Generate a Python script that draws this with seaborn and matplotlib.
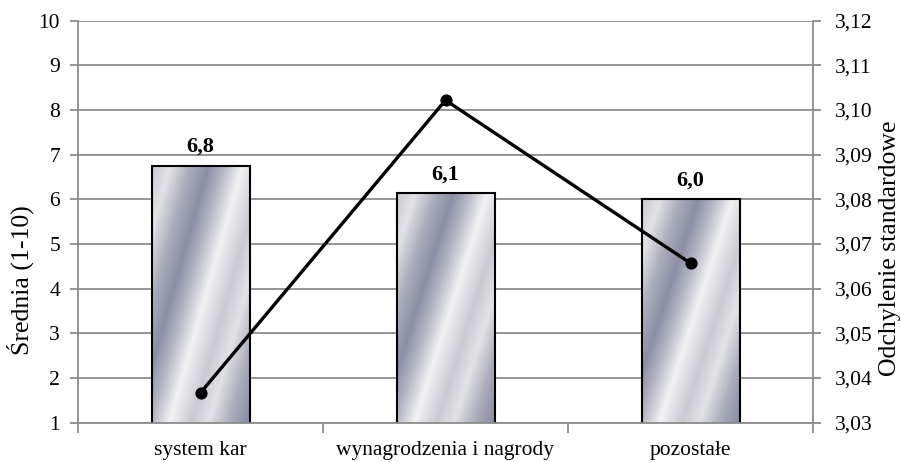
import numpy as np
import pandas as pd
import matplotlib
matplotlib.use("Agg")
import matplotlib.pyplot as plt
import seaborn as sns
from matplotlib.colors import LinearSegmentedColormap

# Data
categories = ["system kar", "wynagrodzenia i nagrody", "pozostałe"]
means = [6.75, 6.14, 6.00]
mean_labels = ["6,8", "6,1", "6,0"]
std_devs = [3.0367, 3.1022, 3.0657]
left_ticks = [1, 2, 3, 4, 5, 6, 7, 8, 9, 10]
right_ticks = [3.03, 3.04, 3.05, 3.06, 3.07, 3.08, 3.09, 3.10, 3.11, 3.12]
right_tick_labels = ["3,03", "3,04", "3,05", "3,06", "3,07",
                     "3,08", "3,09", "3,10", "3,11", "3,12"]

sns.set_theme(style="white")
plt.rcParams["font.family"] = ["Liberation Serif", "DejaVu Serif"]

GRID = "#8c8c8c"
FS = 15.5

fig = plt.figure(figsize=(9.01, 4.62), dpi=100)
ax = fig.add_axes([78 / 901, 39.3 / 462, 735 / 901, 402 / 462])

df = pd.DataFrame({"kategoria": categories, "srednia": means})
sns.barplot(data=df, x="kategoria", y="srednia", ax=ax, width=0.4,
            color="#c0c0c8", saturation=1)

# Brushed-metal fill for each bar, clipped to the bar outline
metal = LinearSegmentedColormap.from_list("metal", [
    (0.00, "#8c90a4"), (0.14, "#b6b8c4"), (0.30, "#f2f2f4"),
    (0.50, "#cacbd2"), (0.66, "#e2e2e6"), (0.84, "#a9acb9"),
    (1.00, "#8c90a4")])
ny, nx = 300, 120
yn, xn = np.mgrid[0:1:ny * 1j, 0:1:nx * 1j]
phase = ((xn - 0.75 * yn) / 1.15 + 0.15) % 1.0
tex = metal(phase)

for p in ax.patches:
    x0, w, h = p.get_x(), p.get_width(), p.get_height()
    im = ax.imshow(tex, extent=[x0, x0 + w, 1, h], origin="lower",
                   aspect="auto", interpolation="bilinear", zorder=1.8)
    im.set_clip_path(p)
    p.set_facecolor("none")
    p.set_edgecolor("black")
    p.set_linewidth(1.5)
    p.set_zorder(2)

ax.set_xlim(-0.5, 2.5)
ax.set_ylim(1, 10)
ax.set_yticks(left_ticks)
ax.set_yticklabels([str(t) for t in left_ticks])
ax.set_axisbelow(True)
ax.yaxis.grid(True, color=GRID, linewidth=1.3)
ax.xaxis.grid(False)

ax.set_xticks([0, 1, 2])
ax.set_xticklabels(categories)
ax.set_xticks([-0.5, 0.5, 1.5, 2.5], minor=True)
ax.tick_params(axis="x", which="major", length=0, pad=13, labelsize=FS,
               labelcolor="black")
ax.tick_params(axis="x", which="minor", bottom=True, length=7, width=1.3,
               color=GRID)
ax.tick_params(axis="y", direction="out", left=True, length=6, width=1.3,
               color=GRID, pad=7, labelsize=FS, labelcolor="black")

for side in ["left", "bottom"]:
    ax.spines[side].set_color(GRID)
    ax.spines[side].set_linewidth(1.3)
for side in ["top", "right"]:
    ax.spines[side].set_visible(False)

for i, (m, lab) in enumerate(zip(means, mean_labels)):
    ax.text(i, m + 0.31, lab, ha="center", va="baseline",
            fontsize=16, fontweight="bold", color="black")

ax.set_xlabel("")
ax.set_ylabel("Średnia (1-10)", fontsize=18.5, color="black")
ax.yaxis.label.set_va("center")
ax.yaxis.set_label_coords(-0.079, 0.355)

# Standard deviation on the secondary axis
ax2 = ax.twinx()
line_df = pd.DataFrame({"pos": np.arange(len(categories)), "sd": std_devs})
sns.lineplot(data=line_df, x="pos", y="sd", ax=ax2, color="black",
             linewidth=2.4, marker="o", markersize=8,
             markeredgecolor="black", markerfacecolor="black")
ax2.set_xlim(-0.5, 2.5)
ax2.set_ylim(3.03, 3.12)
ax2.set_yticks(right_ticks)
ax2.set_yticklabels(right_tick_labels)
ax2.grid(False)
ax2.tick_params(axis="y", direction="out", right=True, length=6, width=1.3,
                color=GRID, pad=9.5, labelsize=FS, labelcolor="black")
for side in ["left", "top", "bottom"]:
    ax2.spines[side].set_visible(False)
ax2.spines["right"].set_color(GRID)
ax2.spines["right"].set_linewidth(1.3)
ax2.set_xlabel("")
ax2.set_ylabel("Odchylenie standardowe", fontsize=18.5, color="black")
ax2.yaxis.label.set_va("center")
ax2.yaxis.set_label_coords(1.105, 0.435)

fig.savefig("out.png", dpi=100)
